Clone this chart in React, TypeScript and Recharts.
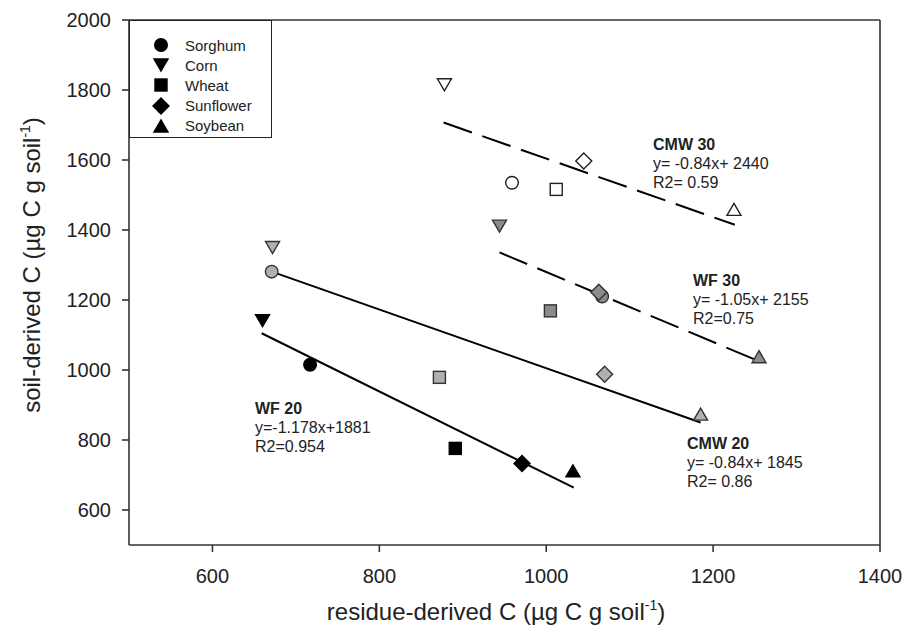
import React from 'react';
import { ScatterChart, Scatter, XAxis, YAxis, ReferenceLine } from 'recharts';

// crop order used by every treatment array below
const crops = ['Sorghum', 'Corn', 'Wheat', 'Sunflower', 'Soybean'];

// residue-derived C (x) / soil-derived C (y), µg C g soil-1
const wf20X = [717, 660, 891, 971, 1032];
const wf20Y = [1015, 1141, 776, 733, 712];
const cmw20X = [671, 672, 872, 1070, 1185];
const cmw20Y = [1281, 1350, 979, 988, 874];
const wf30X = [1067, 944, 1005, 1063, 1255];
const wf30Y = [1210, 1411, 1169, 1222, 1038];
const cmw30X = [959, 878, 1012, 1045, 1225];
const cmw30Y = [1535, 1815, 1516, 1597, 1459];

// regression line end points
const wf20FitX = [659, 1033];
const wf20FitY = [1105, 664];
const cmw20FitX = [671, 1185];
const cmw20FitY = [1281, 850];
const wf30FitX = [944, 1251];
const wf30FitY = [1336, 1029];
const cmw30FitX = [877, 1226];
const cmw30FitY = [1707, 1415];

const xTicks = [600, 800, 1000, 1200, 1400];
const yTicks = [600, 800, 1000, 1200, 1400, 1600, 1800, 2000];

const FONT = 'Arial, "Liberation Sans", Helvetica, sans-serif';
const INK = '#222';

const toPoints = (xs: number[], ys: number[]) =>
  xs.map((x, i) => ({ x, y: ys[i], crop: crops[i] }));

type MarkerProps = { cx: number; cy: number; crop: string; fill: string; stroke?: string };

const Marker = ({ cx, cy, crop, fill, stroke = '#333' }: MarkerProps) => {
  const common = { fill, stroke, strokeWidth: 1.4 };
  switch (crop) {
    case 'Sorghum':
      return <circle cx={cx} cy={cy} r={6.3} {...common} />;
    case 'Corn':
      return <polygon points={`${cx - 7},${cy - 6} ${cx + 7},${cy - 6} ${cx},${cy + 6}`} {...common} />;
    case 'Wheat':
      return <rect x={cx - 6} y={cy - 6} width={12} height={12} {...common} />;
    case 'Sunflower':
      return <polygon points={`${cx},${cy - 8} ${cx + 8},${cy} ${cx},${cy + 8} ${cx - 8},${cy}`} {...common} />;
    default:
      return <polygon points={`${cx - 7},${cy + 6} ${cx + 7},${cy + 6} ${cx},${cy - 6}`} {...common} />;
  }
};

const series = [
  { name: 'WF 20', data: toPoints(wf20X, wf20Y), fill: '#000', stroke: '#000' },
  { name: 'CMW 20', data: toPoints(cmw20X, cmw20Y), fill: '#b0b0b0', stroke: '#333' },
  { name: 'WF 30', data: toPoints(wf30X, wf30Y), fill: '#8c8c8c', stroke: '#333' },
  { name: 'CMW 30', data: toPoints(cmw30X, cmw30Y), fill: '#fff', stroke: '#222' },
];

const fits = [
  { name: 'WF 20 fit', data: toPoints(wf20FitX, wf20FitY), dash: undefined },
  { name: 'CMW 20 fit', data: toPoints(cmw20FitX, cmw20FitY), dash: undefined },
  { name: 'WF 30 fit', data: toPoints(wf30FitX, wf30FitY), dash: '30 11' },
  { name: 'CMW 30 fit', data: toPoints(cmw30FitX, cmw30FitY), dash: '30 11' },
];

const notes = [
  { left: 653, top: 135, lines: ['CMW 30', 'y= -0.84x+ 2440', 'R2= 0.59'] },
  { left: 693, top: 271, lines: ['WF 30', 'y= -1.05x+ 2155', 'R2=0.75'] },
  { left: 255, top: 399, lines: ['WF 20', 'y=-1.178x+1881', 'R2=0.954'] },
  { left: 687, top: 434, lines: ['CMW 20', 'y= -0.84x+ 1845', 'R2= 0.86'] },
];

const XTitle = () => (
  <text x={496} y={620} textAnchor="middle" fontSize={24} fill={INK} fontFamily={FONT}>
    residue-derived C (µg C g soil
    <tspan dy={-10} fontSize={14}>-1</tspan>
    <tspan dy={10}>)</tspan>
  </text>
);

const YTitle = () => (
  <text
    x={0}
    y={0}
    transform="translate(40,265) rotate(-90)"
    textAnchor="middle"
    fontSize={24}
    fill={INK}
    fontFamily={FONT}
  >
    soil-derived C (µg C g soil
    <tspan dy={-10} fontSize={14}>-1</tspan>
    <tspan dy={10}>)</tspan>
  </text>
);

const LegendBox = () => (
  <div
    style={{
      position: 'absolute',
      left: 129,
      top: 20,
      width: 143,
      height: 118,
      border: `1.5px solid ${INK}`,
      boxSizing: 'border-box',
      background: '#fff',
      fontFamily: FONT,
      fontSize: 15,
      color: INK,
    }}
  >
    {crops.map((crop, i) => (
      <div key={crop} style={{ position: 'absolute', left: 0, top: 14 + i * 20.2, height: 20, display: 'flex', alignItems: 'center' }}>
        <svg width={50} height={20} style={{ display: 'block' }}>
          <Marker cx={31} cy={10} crop={crop} fill="#000" stroke="#000" />
        </svg>
        <span style={{ marginLeft: 5 }}>{crop}</span>
      </div>
    ))}
  </div>
);

export default function App() {
  return (
    <div style={{ position: 'absolute', left: 0, top: 0, width: 913, height: 633, background: '#fff' }}>
      <ScatterChart width={913} height={633} margin={{ top: 20, right: 33, left: 0, bottom: 0 }}>
        <XAxis
          type="number"
          dataKey="x"
          domain={[500, 1400]}
          ticks={xTicks}
          allowDataOverflow
          height={88}
          tickSize={7}
          tickMargin={17}
          stroke="#333"
          strokeWidth={1.6}
          tick={{ fontSize: 20, fill: INK, fontFamily: FONT }}
          label={<XTitle />}
        />
        <YAxis
          type="number"
          dataKey="y"
          domain={[500, 2000]}
          ticks={yTicks}
          allowDataOverflow
          width={129}
          tickSize={7}
          tickMargin={11}
          stroke="#333"
          strokeWidth={1.6}
          tick={{ fontSize: 20, fill: INK, fontFamily: FONT }}
          label={<YTitle />}
        />
        <ReferenceLine y={2000} stroke="#333" strokeWidth={1.6} />
        <ReferenceLine x={1400} stroke="#333" strokeWidth={1.6} />
        {fits.map((f) => (
          <Scatter
            key={f.name}
            name={f.name}
            data={f.data}
            line={{ stroke: '#000', strokeWidth: 2, strokeDasharray: f.dash }}
            shape={() => <g />}
            legendType="none"
            isAnimationActive={false}
          />
        ))}
        {series.map((s) => (
          <Scatter
            key={s.name}
            name={s.name}
            data={s.data}
            isAnimationActive={false}
            shape={(p: any) => <Marker cx={p.cx} cy={p.cy} crop={p.payload.crop} fill={s.fill} stroke={s.stroke} />}
          />
        ))}
      </ScatterChart>
      <LegendBox />
      {notes.map((n) => (
        <div
          key={n.lines[0]}
          style={{ position: 'absolute', left: n.left, top: n.top, fontFamily: FONT, fontSize: 16, lineHeight: '19px', color: INK, whiteSpace: 'nowrap' }}
        >
          {n.lines.map((l, i) => (
            <div key={i} style={{ fontWeight: i === 0 ? 700 : 400 }}>{l}</div>
          ))}
        </div>
      ))}
    </div>
  );
}
